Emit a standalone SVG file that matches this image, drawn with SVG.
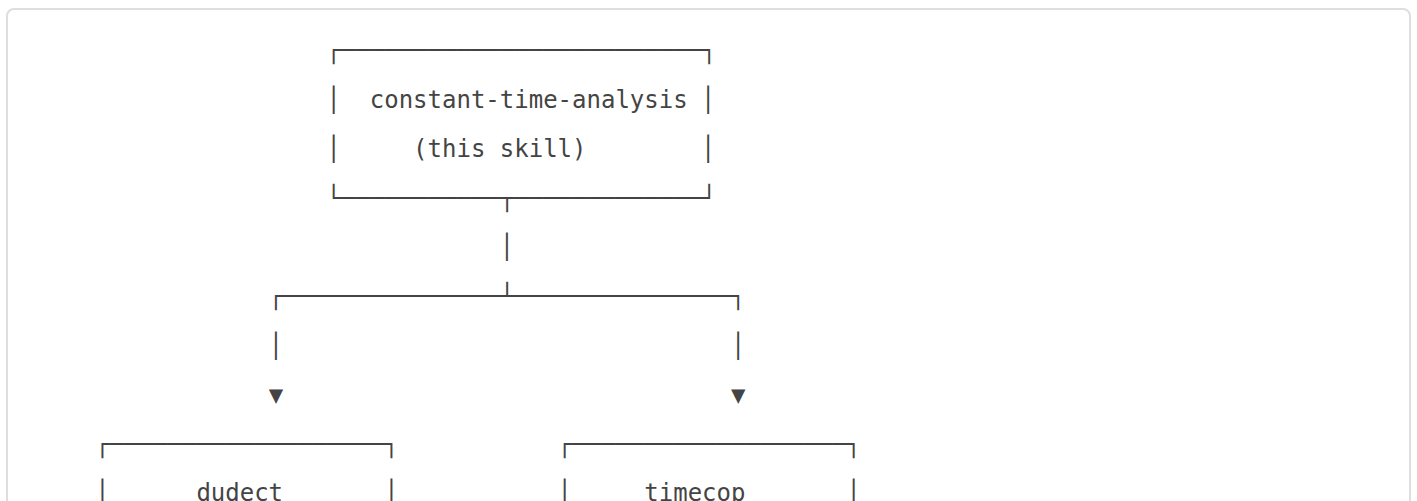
<svg xmlns="http://www.w3.org/2000/svg" width="1417" height="501" viewBox="0 0 1417 501">
  <style>
    .t { font-family: "DejaVu Sans Mono", "Liberation Mono", monospace; font-size: 24px; fill: #444444; white-space: pre; }
  </style>
  <!-- page background and code block frame -->
  <rect x="0" y="0" width="1417" height="501" fill="#ffffff"/>
  <rect x="7" y="9" width="1403" height="620" rx="7" ry="7" fill="#ffffff" stroke="#dedede" stroke-width="2"/>

  <!-- column width 14.449px (24px mono), column 0 at x=23; row pitch 49.2px -->
  <g id="node-constant-time-analysis">
    <text class="t" x="326.43" y="58.3">┌─────────────────────────┐</text>
    <text class="t" x="326.43" y="107.5">│</text>
    <text class="t" x="369.78" y="107.5">constant-time-analysis</text>
    <text class="t" x="701.11" y="107.5">│</text>
    <text class="t" x="326.43" y="156.7">│</text>
    <text class="t" x="413.12" y="156.7">(this skill)</text>
    <text class="t" x="701.11" y="156.7">│</text>
    <text class="t" x="326.43" y="205.9">└───────────┬─────────────┘</text>
  </g>

  <g id="connectors">
    <text class="t" x="499.82" y="255.1">│</text>
    <text class="t" x="268.64" y="304.3">┌───────────────┴───────────────┐</text>
    <text class="t" x="268.64" y="353.5">│</text>
    <text class="t" x="731.00" y="353.5">│</text>
    <text class="t" x="268.64" y="402.7">▼</text>
    <text class="t" x="731.00" y="402.7">▼</text>
  </g>

  <g id="node-dudect">
    <text class="t" x="95.25" y="451.9">┌───────────────────┐</text>
    <text class="t" x="95.25" y="501.1">│</text>
    <text class="t" x="196.39" y="501.1">dudect</text>
    <text class="t" x="384.23" y="501.1">│</text>
  </g>

  <g id="node-timecop">
    <text class="t" x="557.62" y="451.9">┌───────────────────┐</text>
    <text class="t" x="557.62" y="501.1">│</text>
    <text class="t" x="644.32" y="501.1">timecop</text>
    <text class="t" x="846.61" y="501.1">│</text>
  </g>
</svg>
